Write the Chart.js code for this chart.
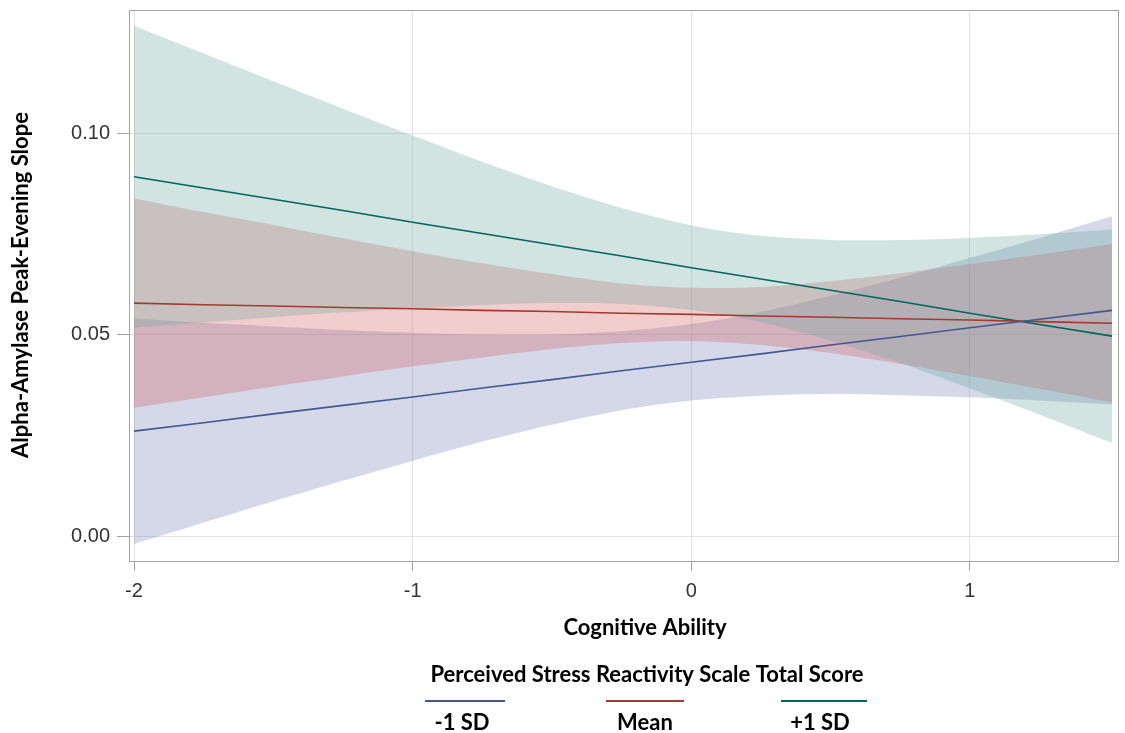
<!DOCTYPE html>
<html>
<head>
<meta charset="utf-8">
<script src="https://cdn.jsdelivr.net/npm/chart.js@4.4.1/dist/chart.umd.min.js"></script>
<style>
  html, body { margin: 0; padding: 0; background: #ffffff; }
  #wrap { width: 1125px; height: 733px; position: relative; }
</style>
</head>
<body>
<div id="wrap"><canvas id="c" width="1125" height="733"></canvas></div>
<script>
// ---- Data ----
const xVals = [-2, -1.75, -1.5, -1.25, -1, -0.75, -0.5, -0.25, 0, 0.25, 0.5, 0.75, 1, 1.25, 1.51];

// -1 SD (blue)
const lowLine  = [0.0261, 0.0282, 0.0304, 0.0325, 0.0346, 0.0368, 0.0389, 0.0411, 0.0432, 0.0453, 0.0475, 0.0496, 0.0518, 0.0539, 0.0561];
const lowUpper = [0.0541, 0.0530, 0.0521, 0.0512, 0.0505, 0.0501, 0.0501, 0.0509, 0.0527, 0.0557, 0.0597, 0.0642, 0.0691, 0.0741, 0.0795];
const lowLower = [-0.0019, 0.0034, 0.0087, 0.0138, 0.0187, 0.0235, 0.0277, 0.0313, 0.0337, 0.0349, 0.0353, 0.0350, 0.0345, 0.0337, 0.0327];

// Mean (red)
const meanLine  = [0.0579, 0.0575, 0.0572, 0.0568, 0.0565, 0.0561, 0.0558, 0.0554, 0.0551, 0.0547, 0.0544, 0.0540, 0.0537, 0.0533, 0.0529];
const meanUpper = [0.0839, 0.0805, 0.0773, 0.0740, 0.0708, 0.0678, 0.0651, 0.0628, 0.0617, 0.0619, 0.0633, 0.0653, 0.0676, 0.0700, 0.0726];
const meanLower = [0.0319, 0.0345, 0.0372, 0.0397, 0.0422, 0.0444, 0.0465, 0.0480, 0.0485, 0.0475, 0.0455, 0.0428, 0.0398, 0.0366, 0.0332];

// +1 SD (teal)
const highLine  = [0.0893, 0.0865, 0.0837, 0.0809, 0.0780, 0.0752, 0.0724, 0.0696, 0.0667, 0.0639, 0.0611, 0.0583, 0.0554, 0.0526, 0.0497];
const highUpper = [0.1268, 0.1199, 0.1130, 0.1062, 0.0995, 0.0930, 0.0869, 0.0815, 0.0772, 0.0746, 0.0736, 0.0736, 0.0741, 0.0750, 0.0762];
const highLower = [0.0518, 0.0531, 0.0544, 0.0556, 0.0565, 0.0574, 0.0579, 0.0577, 0.0562, 0.0532, 0.0486, 0.0430, 0.0367, 0.0302, 0.0232];

const xTickValues = [-2, -1, 0, 1];
const yTickValues = [0, 0.05, 0.10];

const seriesNames = ['-1 SD', 'Mean', '+1 SD'];
const legendTitle = 'Perceived Stress Reactivity Scale Total Score';
const xTitle = 'Cognitive Ability';
const yTitle = 'Alpha-Amylase Peak-Evening Slope';

// ---- Styles ----
const lineColors = ['#445694', '#A23A2E', '#01665E'];
const bandColors = ['rgba(111,126,179,0.30)', 'rgba(208,91,91,0.30)', 'rgba(102,165,160,0.30)'];

function pts(arr) { return xVals.map((x, i) => ({ x: x, y: arr[i] })); }

function band(upper, lower, color) {
  return [
    { data: pts(upper), fill: '+1', backgroundColor: color, borderWidth: 0, pointRadius: 0, tension: 0.3, order: 2 },
    { data: pts(lower), fill: false, borderWidth: 0, pointRadius: 0, tension: 0.3, order: 2 }
  ];
}

const datasets = [
  ...band(highUpper, highLower, bandColors[2]),
  ...band(meanUpper, meanLower, bandColors[1]),
  ...band(lowUpper, lowLower, bandColors[0]),
  { data: pts(lowLine), borderColor: lineColors[0], borderWidth: 1.6, pointRadius: 0, fill: false, order: 0 },
  { data: pts(meanLine), borderColor: lineColors[1], borderWidth: 1.6, pointRadius: 0, fill: false, order: 0 },
  { data: pts(highLine), borderColor: lineColors[2], borderWidth: 1.6, pointRadius: 0, fill: false, order: 0 }
];

const decor = {
  id: 'decor',
  afterDraw(chart) {
    const ctx = chart.ctx;
    const a = chart.chartArea;
    ctx.save();
    // frame
    ctx.strokeStyle = '#a3a3a3';
    ctx.lineWidth = 1;
    ctx.strokeRect(a.left + 0.5, a.top + 0.5, a.right - a.left - 1, a.bottom - a.top - 1);

    const titleFont = 'bold 22px Lato, "Open Sans", sans-serif';
    ctx.fillStyle = '#000000';
    ctx.font = titleFont;
    ctx.textAlign = 'center';
    ctx.textBaseline = 'middle';
    // x title
    ctx.fillText(xTitle, 645, 628);
    // y title
    ctx.save();
    ctx.translate(21, 285);
    ctx.rotate(-Math.PI / 2);
    ctx.fillText(yTitle, 0, 0);
    ctx.restore();

    // legend
    ctx.fillText(legendTitle, 647, 675);
    const items = [
      { x1: 425, x2: 505, cx: 462 },
      { x1: 606, x2: 684, cx: 645 },
      { x1: 781, x2: 867, cx: 820 }
    ];
    items.forEach((it, i) => {
      ctx.strokeStyle = lineColors[i];
      ctx.lineWidth = 2;
      ctx.beginPath();
      ctx.moveTo(it.x1, 701);
      ctx.lineTo(it.x2, 701);
      ctx.stroke();
      ctx.fillStyle = '#000000';
      ctx.fillText(seriesNames[i], it.cx, 723);
    });
    ctx.restore();
  }
};

new Chart(document.getElementById('c'), {
  type: 'line',
  data: { datasets: datasets },
  options: {
    responsive: false,
    animation: false,
    devicePixelRatio: 1,
    layout: { padding: { top: 10, right: 6, left: 0, bottom: 0 } },
    plugins: { legend: { display: false }, tooltip: { enabled: false } },
    scales: {
      x: {
        type: 'linear',
        min: -2.018,
        max: 1.535,
        afterBuildTicks: s => { s.ticks = xTickValues.map(v => ({ value: v })); },
        afterFit: s => { s.height = 171; s.paddingLeft = 0; s.paddingRight = 0; },
        ticks: {
          font: { family: 'Liberation Sans, Arial, sans-serif', size: 20 },
          color: '#333333',
          padding: 8,
          maxRotation: 0,
          callback: v => String(v)
        },
        grid: { color: '#e3e3e3', tickColor: '#a0a0a0', tickLength: 9, lineWidth: 1 },
        border: { display: false }
      },
      y: {
        type: 'linear',
        min: -0.0064,
        max: 0.1307,
        afterBuildTicks: s => { s.ticks = yTickValues.map(v => ({ value: v })); },
        afterFit: s => { s.width = 129; s.paddingTop = 0; s.paddingBottom = 0; },
        ticks: {
          font: { family: 'Liberation Sans, Arial, sans-serif', size: 20 },
          color: '#333333',
          padding: 7,
          callback: v => Number(v).toFixed(2)
        },
        grid: { color: '#e3e3e3', tickColor: '#a0a0a0', tickLength: 12, lineWidth: 1 },
        border: { display: false }
      }
    }
  },
  plugins: [decor]
});
</script>
</body>
</html>
